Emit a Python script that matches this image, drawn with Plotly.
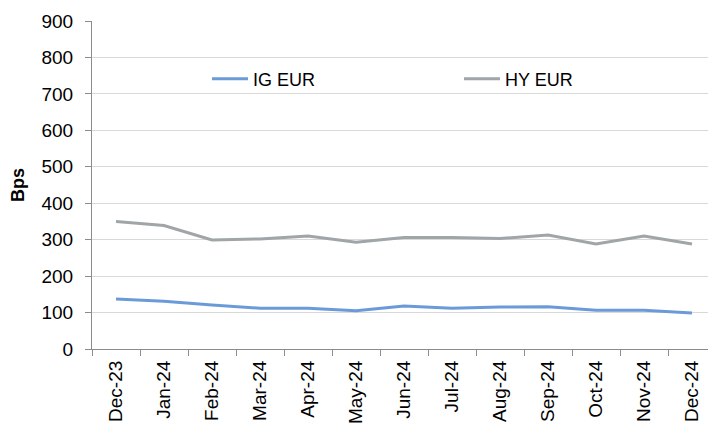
import plotly.graph_objects as go

months = ["Dec-23", "Jan-24", "Feb-24", "Mar-24", "Apr-24", "May-24", "Jun-24",
          "Jul-24", "Aug-24", "Sep-24", "Oct-24", "Nov-24", "Dec-24"]
ig_eur = [137, 131, 121, 112, 112, 105, 118, 112, 115, 116, 106, 106, 99]
hy_eur = [350, 339, 299, 302, 310, 293, 306, 306, 303, 313, 288, 310, 288]
y_ticks = [0, 100, 200, 300, 400, 500, 600, 700, 800, 900]

FONT = "Liberation Sans, Arial, sans-serif"

# page body has an 8px default margin; size the figure to fill the window
OFF = 8
W, H = 716 - OFF, 423 - OFF
L, T, B = 92 - OFF, 21 - OFF, 74
PW, PH = W - L, H - T - B

fig = go.Figure()
fig.add_trace(go.Scatter(x=months, y=ig_eur, mode="lines", name="IG EUR",
                         line=dict(color="#6a9bd8", width=3), legend="legend"))
fig.add_trace(go.Scatter(x=months, y=hy_eur, mode="lines", name="HY EUR",
                         line=dict(color="#a0a5a8", width=3), legend="legend2"))

legend_common = dict(orientation="h", xref="paper", yref="paper", xanchor="left",
                     yanchor="middle", bgcolor="rgba(0,0,0,0)",
                     font=dict(family=FONT, size=18, color="#000000"),
                     itemwidth=36)

fig.update_layout(
    width=W, height=H,
    margin=dict(l=L, r=0, t=T, b=B, autoexpand=False),
    paper_bgcolor="white", plot_bgcolor="white",
    font=dict(family=FONT, color="#000000"),
    showlegend=True,
    legend=dict(x=(207 - 92) / PW, y=(349 - 79) / PH, **legend_common),
    legend2=dict(x=(459 - 92) / PW, y=(349 - 79) / PH, **legend_common),
    xaxis=dict(
        type="category", range=[-0.5, 12.5], tickangle=-90,
        tickson="boundaries", ticks="outside", ticklen=6, tickcolor="#8c8c8c",
        showline=True, linecolor="#8c8c8c", linewidth=1.2,
        showgrid=False, tickfont=dict(family=FONT, size=19, color="#000000"),
        automargin=False, ticklabelstandoff=3,
    ),
    yaxis=dict(
        range=[0, 900], tickvals=y_ticks, ticktext=[str(v) for v in y_ticks],
        ticks="outside", ticklen=6, tickcolor="#8c8c8c",
        showline=True, linecolor="#8c8c8c", linewidth=1.2,
        showgrid=True, gridcolor="#d9d9d9", gridwidth=1.3,
        zeroline=False,
        tickfont=dict(family=FONT, size=19, color="#000000"),
        title=dict(text="<b>Bps</b>", font=dict(family=FONT, size=18, color="#000000"),
                   standoff=16),
        automargin=False, ticklabelstandoff=8,
    ),
)

fig.write_html("out.html")
